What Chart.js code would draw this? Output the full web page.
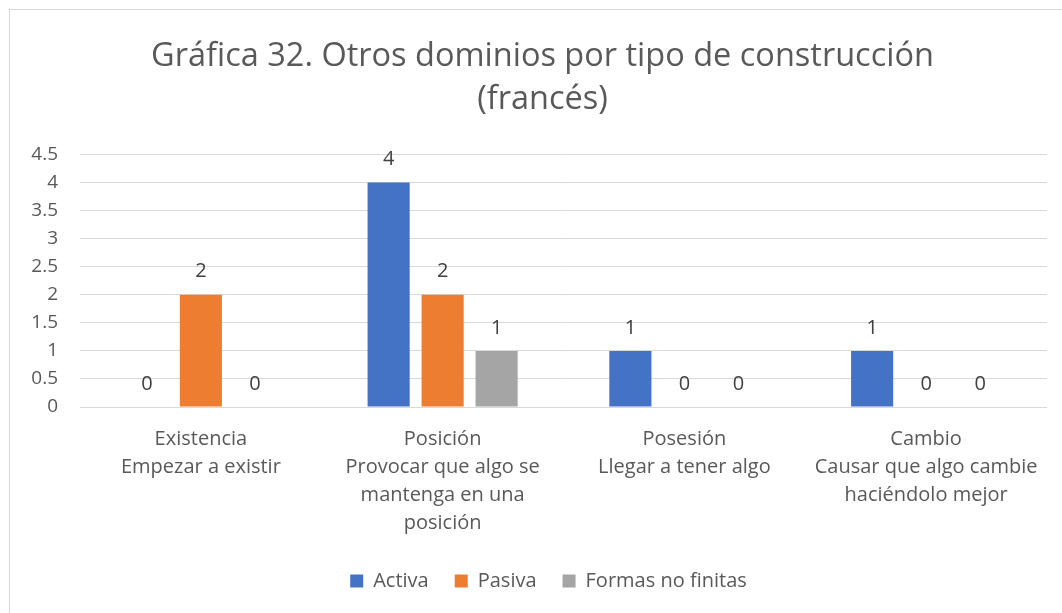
<!DOCTYPE html>
<html>
<head>
<meta charset="utf-8">
<script src="https://cdn.jsdelivr.net/npm/chart.js@4"></script>
<style>
  html, body { margin: 0; padding: 0; background: #ffffff; }
  #wrap { width: 1062px; height: 613px; position: relative; }
</style>
</head>
<body>
<div id="wrap"><canvas id="c" width="1062" height="613"></canvas></div>
<script>
const titleLines = ['Gráfica 32. Otros dominios por tipo de construcción', '(francés)'];
const categories = [
  ['Existencia', 'Empezar a existir'],
  ['Posición', 'Provocar que algo se', 'mantenga en una', 'posición'],
  ['Posesión', 'Llegar a tener algo'],
  ['Cambio', 'Causar que algo cambie', 'haciéndolo mejor']
];
const seriesNames = ['Activa', 'Pasiva', 'Formas no finitas'];
const activa = [0, 4, 1, 1];
const pasiva = [2, 2, 0, 0];
const formasNoFinitas = [0, 1, 0, 0];
const seriesColors = ['#4472C4', '#ED7D31', '#A5A5A5'];
const yMin = 0, yMax = 4.5, yStep = 0.5;

const FONT = "'Open Sans', 'Liberation Sans', sans-serif";
const TXT = '#595959';

const borderPlugin = {
  id: 'borderBox',
  afterLayout(chart) {
    // let the y tick labels use the space left of the scale box
    if (chart.scales.y) chart.scales.y.left = 0;
    if (chart.legend) { chart.legend.left += 6; chart.legend.right += 6; }
  },
  beforeDraw(chart) {
    const ctx = chart.ctx;
    ctx.save();
    ctx.fillStyle = '#ffffff';
    ctx.fillRect(0, 0, chart.width, chart.height);
    ctx.strokeStyle = '#d9d9d9';
    ctx.lineWidth = 1;
    ctx.strokeRect(9.5, 9.5, chart.width + 20, chart.height + 20);
    ctx.restore();
  }
};

const dataLabels = {
  id: 'dataLabels',
  afterDatasetsDraw(chart) {
    const ctx = chart.ctx;
    ctx.save();
    ctx.font = '20px ' + FONT;
    ctx.fillStyle = '#404040';
    ctx.textAlign = 'center';
    ctx.textBaseline = 'middle';
    chart.data.datasets.forEach((ds, di) => {
      const meta = chart.getDatasetMeta(di);
      meta.data.forEach((bar, i) => {
        ctx.fillText(String(ds.data[i]), bar.x, bar.y - 23);
      });
    });
    ctx.restore();
  }
};

new Chart(document.getElementById('c'), {
  type: 'bar',
  data: {
    labels: categories,
    datasets: [
      { label: seriesNames[0], data: activa, backgroundColor: seriesColors[0] },
      { label: seriesNames[1], data: pasiva, backgroundColor: seriesColors[1] },
      { label: seriesNames[2], data: formasNoFinitas, backgroundColor: seriesColors[2] }
    ]
  },
  options: {
    responsive: false,
    animation: false,
    devicePixelRatio: 1,
    layout: { padding: { left: 38, right: 15, top: 0, bottom: 12 } },
    datasets: { bar: { categoryPercentage: 0.67, barPercentage: 0.78 } },
    plugins: {
      legend: {
        position: 'bottom',
        labels: {
          boxWidth: 13, boxHeight: 13, padding: 26,
          color: TXT,
          font: { family: FONT, size: 20 }
        }
      },
      title: {
        display: true,
        text: titleLines,
        color: TXT,
        font: { family: FONT, size: 32.5, weight: 'normal', lineHeight: 1.33 },
        padding: { top: 35, bottom: 33 }
      },
      tooltip: { enabled: false }
    },
    scales: {
      x: {
        grid: { display: false, drawTicks: false },
        border: { display: false },
        ticks: {
          color: TXT,
          font: { family: FONT, size: 20, lineHeight: 1.4 },
          padding: 18,
          maxRotation: 0, autoSkip: false
        },
        afterFit(scale) { scale.height = 138; }
      },
      y: {
        min: yMin, max: yMax,
        grid: { color: '#d9d9d9', lineWidth: 1, drawTicks: false },
        border: { display: false },
        ticks: {
          stepSize: yStep,
          color: TXT,
          font: { family: FONT, size: 19 },
          padding: 22,
          callback: (v) => String(Number(v))
        },
        afterFit(scale) { scale.width = 42; }
      }
    }
  },
  plugins: [borderPlugin, dataLabels]
});
</script>
</body>
</html>
